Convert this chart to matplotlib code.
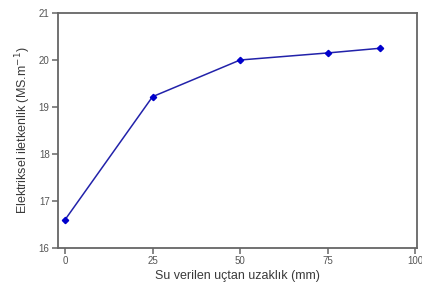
import matplotlib
matplotlib.use('Agg')
import matplotlib.pyplot as plt

distance = [0, 25, 50, 75, 90]
conductivity = [16.6, 19.22, 20.0, 20.15, 20.25]
x_ticks = [0, 25, 50, 75, 100]
y_ticks = [16, 17, 18, 19, 20, 21]

plt.rcParams['font.family'] = ['Liberation Sans', 'DejaVu Sans']

fig = plt.figure(figsize=(4.22, 2.88), dpi=100)
ax = fig.add_axes([58/422, 40/288, 359/422, 235/288])

ax.plot(distance, conductivity, color='#2222aa', lw=1.1, marker='D', ms=3.2,
        mfc='#0000cc', mec='#0000cc')

ax.set_xlim(-2, 100.5)
ax.set_ylim(16, 21)
ax.set_xticks(x_ticks)
ax.set_yticks(y_ticks)

for s in ax.spines.values():
    s.set_color('#666666')
    s.set_linewidth(1.3)
ax.tick_params(direction='out', length=4, width=1.1, color='#666666',
               labelsize=7, labelcolor='#555555', pad=2)

ax.set_xlabel('Su verilen uçtan uzaklık (mm)', fontsize=9, color='#3a3a3a', labelpad=3)
ax.set_ylabel('Elektriksel iletkenlik (MS.m$^{-1}$)', fontsize=9, color='#3a3a3a', labelpad=4)

fig.savefig('out.png', dpi=100)
